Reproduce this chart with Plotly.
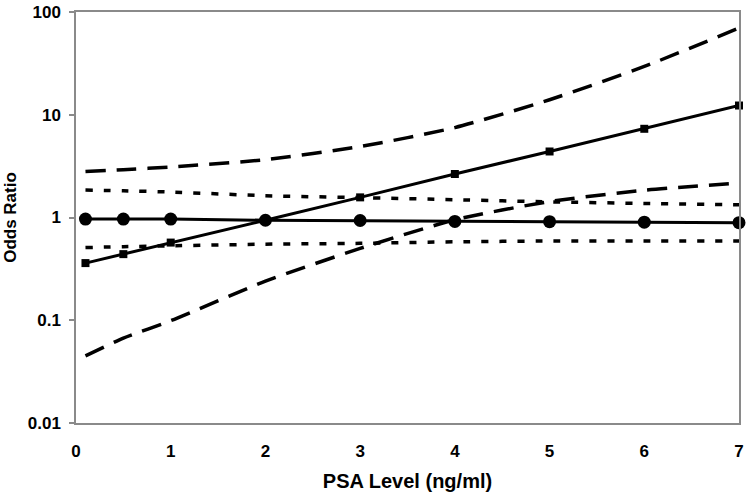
import plotly.graph_objects as go

psa = [0.1, 0.5, 1, 2, 3, 4, 5, 6, 7]

# Series with square markers and its confidence limits (long dashes)
or_square = [0.36, 0.44, 0.57, 0.94, 1.57, 2.65, 4.39, 7.3, 12.3]
square_upper = [2.8, 2.92, 3.1, 3.65, 4.9, 7.5, 14.0, 29.5, 69.8]
square_lower = [0.045, 0.067, 0.099, 0.24, 0.50, 0.95, 1.43, 1.84, 2.16]

# Series with circle markers and its confidence limits (short dashes)
or_circle = [0.965, 0.965, 0.965, 0.94, 0.935, 0.915, 0.91, 0.90, 0.89]
circle_upper = [1.85, 1.82, 1.77, 1.63, 1.56, 1.49, 1.42, 1.37, 1.33]
circle_lower = [0.51, 0.52, 0.53, 0.55, 0.56, 0.58, 0.59, 0.59, 0.59]

x_ticks = [0, 1, 2, 3, 4, 5, 6, 7]
y_ticks = [0.01, 0.1, 1, 10, 100]
y_tick_labels = ["0.01", "0.1", "1", "10", "100"]

FONT = "Liberation Sans, Arial, sans-serif"

fig = go.Figure()

long_dash = "20px,11px"
short_dash = "7px,11px"

for ys in (square_upper, square_lower):
    fig.add_trace(go.Scatter(x=psa, y=ys, mode="lines", line=dict(color="black", width=3.5, dash=long_dash, shape="spline", smoothing=0.6), hoverinfo="skip"))
for ys in (circle_upper, circle_lower):
    fig.add_trace(go.Scatter(x=psa, y=ys, mode="lines", line=dict(color="black", width=3.5, dash=short_dash, shape="spline", smoothing=0.6), hoverinfo="skip"))

fig.add_trace(go.Scatter(x=psa, y=or_circle, mode="lines+markers",
                         line=dict(color="black", width=3),
                         marker=dict(symbol="circle", size=13, color="black"),
                         cliponaxis=False))
fig.add_trace(go.Scatter(x=psa, y=or_square, mode="lines+markers",
                         line=dict(color="black", width=3),
                         marker=dict(symbol="square", size=8, color="black"),
                         cliponaxis=False))

fig.update_layout(
    width=750, height=498,
    margin=dict(l=76, r=11, t=12, b=75),
    paper_bgcolor="white", plot_bgcolor="white",
    showlegend=False,
    font=dict(family=FONT, color="black"),
)

fig.update_xaxes(
    range=[0, 7], tickvals=x_ticks, ticks="", showgrid=False, zeroline=False,
    showline=True, linecolor="#8a8a8a", linewidth=1.5, mirror=True,
    automargin=False, ticklabelstandoff=12,
    tickfont=dict(family=FONT, size=17, weight="bold"),
    title=dict(text="PSA Level (ng/ml)", font=dict(family=FONT, size=20, weight="bold"), standoff=14),
)
fig.update_yaxes(
    type="log", range=[-2, 2], tickvals=y_ticks, ticktext=y_tick_labels,
    ticks="outside", ticklen=5, tickcolor="#8a8a8a", tickwidth=1.5,
    ticklabelstandoff=5,
    showgrid=False, zeroline=False,
    showline=True, linecolor="#8a8a8a", linewidth=1.5, mirror=True,
    automargin=False,
    tickfont=dict(family=FONT, size=17, weight="bold"),
    title=dict(text="Odds Ratio", font=dict(family=FONT, size=17, weight="bold"), standoff=7),
)

fig.write_html("out.html", config={"displayModeBar": False},
               post_script="document.body.style.margin='0';")
